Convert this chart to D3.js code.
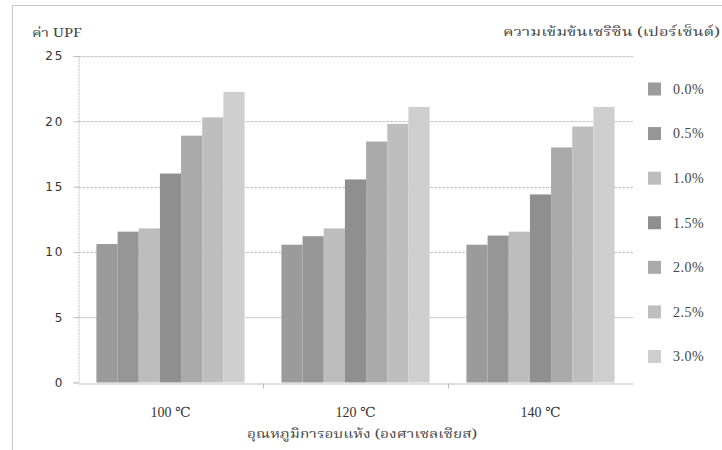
<!DOCTYPE html>
<html><head><meta charset="utf-8">
<script src="https://cdn.jsdelivr.net/npm/d3@7"></script>
<style>body{margin:0;background:#fff}svg{display:block}</style>
</head><body>
<svg id="c" width="722" height="450"></svg>
<script>
const categories = ["100 \u2103", "120 \u2103", "140 \u2103"];
const seriesNames = ["0.0%", "0.5%", "1.0%", "1.5%", "2.0%", "2.5%", "3.0%"];
const s00 = [10.6, 10.55, 10.55];
const s05 = [11.55, 11.2, 11.25];
const s10 = [11.8, 11.8, 11.55];
const s15 = [16.0, 15.55, 14.4];
const s20 = [18.9, 18.45, 18.0];
const s25 = [20.3, 19.8, 19.6];
const s30 = [22.25, 21.1, 21.1];
const seriesValues = [s00, s05, s10, s15, s20, s25, s30];
const colors = ["#9b9b9b", "#969696", "#bdbdbd", "#8f8f8f", "#aaaaaa", "#bebebe", "#cecece"];
const yTicks = [0, 5, 10, 15, 20, 25];
const yTitle = "ค่า UPF";
const xTitle = "อุณหภูมิการอบแห้ง (องศาเซลเซียส)";
const legendTitle = "ความเข้มข้นเซริซิน (เปอร์เซ็นต์)";

(function () {
const svg = d3.select("#c");
const thaiFont = "'Noto Serif Thai','Tahoma','Noto Sans Thai',serif";
const numFont = "'DejaVu Sans', Verdana, sans-serif";
const serifFont = "'Liberation Serif', 'DejaVu Serif', serif";

// outer frame
svg.append("rect").attr("x", 12.5).attr("y", 5.5).attr("width", 720).attr("height", 460)
  .attr("fill", "none").attr("stroke", "#c8c8c8");

const pL = 78, pR = 633, pT = 56, pB = 382.5;
const x = d3.scaleBand().domain(categories).range([pL, pR]);
const xi = d3.scaleBand().domain(d3.range(seriesNames.length))
  .range([0, x.bandwidth()]).paddingOuter(0.87).paddingInner(0);
const y = d3.scaleLinear().domain([0, 25]).range([pB, pT]);

// gridlines
svg.append("g").selectAll("line").data(yTicks.filter(d => d > 0)).join("line")
  .attr("x1", pL).attr("x2", pR)
  .attr("y1", d => Math.round(y(d)) + 0.5).attr("y2", d => Math.round(y(d)) + 0.5)
  .attr("stroke", "#c4c4c4").attr("stroke-width", 1).attr("stroke-dasharray", "3,1");

// bars
const g = svg.append("g");
categories.forEach((c, ci) => {
  seriesValues.forEach((vals, si) => {
    g.append("rect")
      .attr("x", x(c) + xi(si))
      .attr("y", y(vals[ci]))
      .attr("width", xi.bandwidth())
      .attr("height", y(0) - y(vals[ci]))
      .attr("fill", colors[si]);
  });
});

// y axis
const yAxis = d3.axisLeft(y).tickValues(yTicks).tickSize(5).tickPadding(9);
const ya = svg.append("g").attr("transform", `translate(${pL + 0.5},0)`).call(yAxis);
ya.select(".domain").attr("stroke", "#bdbdbd").attr("stroke-dasharray", "2,1");
ya.selectAll(".tick line").attr("stroke", "#bdbdbd");
ya.selectAll(".tick text").attr("fill", "#333").style("font-family", numFont)
  .style("font-size", "12px").style("letter-spacing", "2px");

// x axis
const xAxis = d3.axisBottom(x).tickSize(0).tickPadding(24);
const xa = svg.append("g").attr("transform", `translate(0,${Math.round(pB) + 0.5})`).call(xAxis);
xa.select(".domain").attr("stroke", "#bdbdbd");
xa.selectAll(".tick text").attr("fill", "#333").style("font-family", serifFont)
  .style("font-size", "14px");
// category separators
xa.append("g").selectAll("line").data(categories.slice(1)).join("line")
  .attr("x1", d => Math.round(x(d)) + 0.5).attr("x2", d => Math.round(x(d)) + 0.5)
  .attr("y1", 0).attr("y2", 5).attr("stroke", "#bdbdbd");

// titles
svg.append("text").attr("x", 32).attr("y", 37).text(yTitle)
  .attr("textLength", 50).attr("lengthAdjust", "spacingAndGlyphs")
  .attr("fill", "#444").style("font-family", thaiFont).style("font-size", "13px");
svg.append("text").attr("x", 247).attr("y", 438).text(xTitle)
  .attr("textLength", 230).attr("lengthAdjust", "spacingAndGlyphs")
  .attr("fill", "#444").style("font-family", thaiFont).style("font-size", "13px");
svg.append("text").attr("x", 503).attr("y", 36).text(legendTitle)
  .attr("textLength", 217).attr("lengthAdjust", "spacingAndGlyphs")
  .attr("fill", "#444").style("font-family", thaiFont).style("font-size", "13px");

// legend
const ly = d3.scalePoint().domain(seriesNames).range([89, 356.5]);
const lg = svg.append("g").selectAll("g").data(seriesNames).join("g")
  .attr("transform", d => `translate(648,${ly(d)})`);
lg.append("rect").attr("x", 0).attr("y", -6.5).attr("width", 13).attr("height", 13)
  .attr("fill", (d, i) => colors[i]);
lg.append("text").attr("x", 25).attr("y", 0).attr("dy", "0.35em").text(d => d)
  .attr("fill", "#444").style("font-family", serifFont).style("font-size", "14px")
  .style("letter-spacing", "0.5px");
})();
</script>
</body></html>
